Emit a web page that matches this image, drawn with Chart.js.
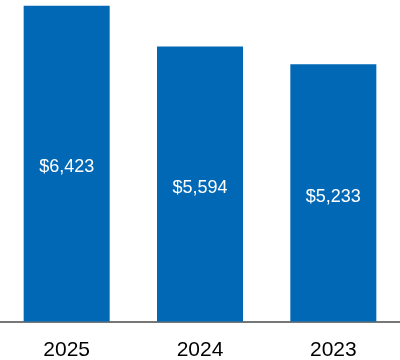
<!DOCTYPE html>
<html>
<head>
<meta charset="utf-8">
<script src="https://cdn.jsdelivr.net/npm/chart.js@4/dist/chart.umd.min.js"></script>
<style>
html,body{margin:0;padding:0;background:#fff;}
#wrap{width:400px;height:360px;position:relative;}
</style>
</head>
<body>
<div id="wrap"><canvas id="c"></canvas></div>
<script>
const categories = ["2025", "2024", "2023"];
const values = [6423, 5594, 5233];
const valueLabels = ["$6,423", "$5,594", "$5,233"];

const labelPlugin = {
  id: 'inBarLabels',
  afterDatasetsDraw(chart) {
    const ctx = chart.ctx;
    const meta = chart.getDatasetMeta(0);
    ctx.save();
    ctx.fillStyle = '#ffffff';
    ctx.font = '18px "Liberation Sans", Arial, sans-serif';
    ctx.textAlign = 'center';
    ctx.textBaseline = 'middle';
    meta.data.forEach((bar, i) => {
      const y = (bar.y + bar.base) / 2 + 3.5;
      ctx.fillText(valueLabels[i], bar.x, y);
    });
    ctx.restore();
  }
};

new Chart(document.getElementById('c'), {
  type: 'bar',
  data: {
    labels: categories,
    datasets: [{
      data: values,
      backgroundColor: '#0068B5',
      borderWidth: 0,
      barPercentage: 0.645,
      categoryPercentage: 1.0
    }]
  },
  options: {
    responsive: true,
    maintainAspectRatio: false,
    animation: false,
    layout: { padding: { top: 0, left: 0, right: 0, bottom: -19 } },
    plugins: { legend: { display: false }, tooltip: { enabled: false } },
    scales: {
      x: {
        grid: { display: false, drawTicks: false },
        border: { display: true, color: '#777777', width: 2 },
        ticks: {
          color: '#000000',
          padding: 16,
          font: { family: '"Liberation Sans", Arial, sans-serif', size: 21 }
        }
      },
      y: {
        display: false,
        min: 0,
        max: 6540
      }
    }
  },
  plugins: [labelPlugin]
});
</script>
</body>
</html>
